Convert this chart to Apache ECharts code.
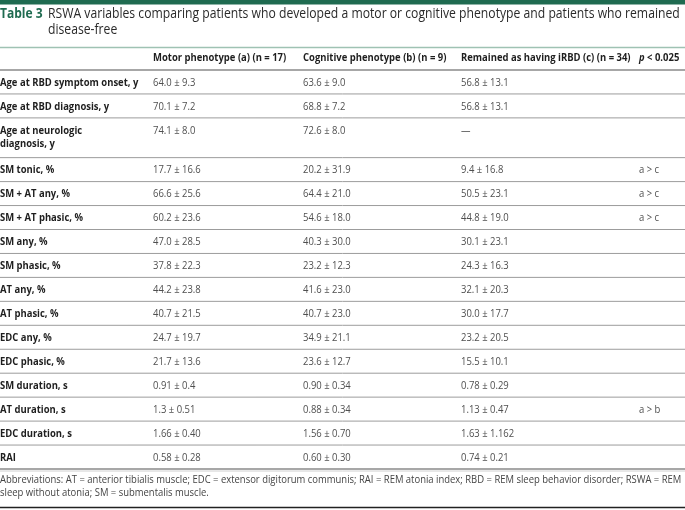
<!DOCTYPE html>
<html><head><meta charset="utf-8">
<script src="https://cdn.jsdelivr.net/npm/echarts@6/dist/echarts.min.js"></script>
<style>html,body{margin:0;padding:0;background:#fff}#c{width:685px;height:510px}</style>
</head><body><div id="c"></div>
<script>
// ---- table content ----
const titleTag = 'Table 3';
const titleText = 'RSWA variables comparing patients who developed a motor or cognitive phenotype and patients who remained\ndisease-free';
const headers = ['', 'Motor phenotype (a) (n = 17)', 'Cognitive phenotype (b) (n = 9)', 'Remained as having iRBD (c) (n = 34)', 'p < 0.025'];
const rowLabels = [
  'Age at RBD symptom onset, y',
  'Age at RBD diagnosis, y',
  'Age at neurologic\ndiagnosis, y',
  'SM tonic, %',
  'SM + AT any, %',
  'SM + AT phasic, %',
  'SM any, %',
  'SM phasic, %',
  'AT any, %',
  'AT phasic, %',
  'EDC any, %',
  'EDC phasic, %',
  'SM duration, s',
  'AT duration, s',
  'EDC duration, s',
  'RAI'
];
const motor = ['64.0 ± 9.3','70.1 ± 7.2','74.1 ± 8.0','17.7 ± 16.6','66.6 ± 25.6','60.2 ± 23.6','47.0 ± 28.5','37.8 ± 22.3','44.2 ± 23.8','40.7 ± 21.5','24.7 ± 19.7','21.7 ± 13.6','0.91 ± 0.4','1.3 ± 0.51','1.66 ± 0.40','0.58 ± 0.28'];
const cognitive = ['63.6 ± 9.0','68.8 ± 7.2','72.6 ± 8.0','20.2 ± 31.9','64.4 ± 21.0','54.6 ± 18.0','40.3 ± 30.0','23.2 ± 12.3','41.6 ± 23.0','40.7 ± 23.0','34.9 ± 21.1','23.6 ± 12.7','0.90 ± 0.34','0.88 ± 0.34','1.56 ± 0.70','0.60 ± 0.30'];
const remained = ['56.8 ± 13.1','56.8 ± 13.1','—','9.4 ± 16.8','50.5 ± 23.1','44.8 ± 19.0','30.1 ± 23.1','24.3 ± 16.3','32.1 ± 20.3','30.0 ± 17.7','23.2 ± 20.5','15.5 ± 10.1','0.78 ± 0.29','1.13 ± 0.47','1.63 ± 1.162','0.74 ± 0.21'];
const pSig = ['','','','a > c','a > c','a > c','','','','','','','','a > b','',''];
const footnote = 'Abbreviations: AT = anterior tibialis muscle; EDC = extensor digitorum communis; RAI = REM atonia index; RBD = REM sleep behavior disorder; RSWA = REM\nsleep without atonia; SM = submentalis muscle.';

// ---- layout / style ----
const FONT = '"Open Sans", sans-serif';
const SX = 0.86;
const GREEN = '#1f6b50';
const colX = [0, 153, 303, 461, 639];
const extraLine = 0.66;
const rowH = rowLabels.map(l => 1 + (l.split('\n').length - 1) * extraLine);
const rowTop = []; let acc = 0; rowH.forEach(h => { rowTop.push(acc); acc += h; });
const total = acc;
const nRows = rowLabels.length;

const chart = echarts.init(document.getElementById('c'), null, {renderer: 'canvas'});

function renderItem(params, api) {
  const i = api.value(0);
  const yTop = api.coord([0, rowTop[i]])[1];
  const yBot = api.coord([0, rowTop[i] + rowH[i]])[1];
  const cells = [rowLabels[i], motor[i], cognitive[i], remained[i], pSig[i]];
  const children = [];
  cells.forEach((t, c) => {
    if (!t) return;
    children.push({
      type: 'text', x: api.coord([colX[c], 0])[0], y: yTop + 6, scaleX: SX,
      style: {
        text: t, fontFamily: FONT, fontSize: 11, fontWeight: c === 0 ? 'bold' : 'normal',
        fill: c === 0 ? '#1e1e1e' : '#4f4f4f', align: 'left', verticalAlign: 'top', lineHeight: 13
      }
    });
  });
  if (i === nRows - 1) {
    children.push({type: 'line', shape: {x1: 0, y1: yBot, x2: 685, y2: yBot}, style: {stroke: '#8a8a8a', lineWidth: 1.5}});
    children.push({type: 'line', shape: {x1: 0, y1: yBot + 2, x2: 685, y2: yBot + 2}, style: {stroke: '#d0d0d0', lineWidth: 1}});
  } else {
    children.push({type: 'line', shape: {x1: 0, y1: yBot, x2: 685, y2: yBot}, style: {stroke: '#9c9c9c', lineWidth: 1}});
  }
  return {type: 'group', children};
}

const headerEls = headers.map((h, c) => {
  if (!h) return null;
  const isP = c === 4;
  return {
    type: 'text', left: colX[c], top: 52, scaleX: SX,
    style: isP ? {
      text: '{i|p} < 0.025', fontFamily: FONT, fontSize: 11, fontWeight: 'bold', fill: '#1e1e1e',
      rich: {i: {fontStyle: 'italic', fontWeight: 'bold', fontFamily: FONT, fontSize: 11, fill: '#1e1e1e'}}
    } : {text: h, fontFamily: FONT, fontSize: 11, fontWeight: 'bold', fill: '#1e1e1e'}
  };
}).filter(Boolean);

chart.setOption({
  animation: false,
  grid: {left: 0, right: 0, top: 70, bottom: 41},
  xAxis: {type: 'value', min: 0, max: 685, show: false},
  yAxis: {type: 'value', min: 0, max: total, inverse: true, show: false},
  series: [{
    type: 'custom', renderItem, coordinateSystem: 'cartesian2d',
    data: rowLabels.map((_, i) => [i]), silent: true, clip: false
  }],
  graphic: [
    {type: 'rect', shape: {x: 0, y: 0, width: 685, height: 4.5}, style: {fill: GREEN}},
    {type: 'text', x: 0, y: 6, scaleX: SX, style: {text: titleTag, fontFamily: FONT, fontSize: 14, fontWeight: 'bold', fill: GREEN, verticalAlign: 'top', lineHeight: 16}},
    {type: 'text', x: 48, y: 6, scaleX: 0.87, style: {text: titleText, fontFamily: FONT, fontSize: 14, fill: '#2a2a2a', verticalAlign: 'top', lineHeight: 16}},
    {type: 'line', shape: {x1: 0, y1: 47.5, x2: 685, y2: 47.5}, style: {stroke: '#9fc2b3', lineWidth: 1.5}},
    {type: 'line', shape: {x1: 0, y1: 70, x2: 685, y2: 70}, style: {stroke: '#8a8a8a', lineWidth: 1.5}},
    ...headerEls,
    {type: 'text', x: 0, y: 473, scaleX: SX, style: {text: footnote, fontFamily: FONT, fontSize: 11, fill: '#444', verticalAlign: 'top', lineHeight: 13}},
    {type: 'line', shape: {x1: 0, y1: 507.5, x2: 685, y2: 507.5}, style: {stroke: '#222', lineWidth: 1.5}}
  ]
});
</script></body></html>
